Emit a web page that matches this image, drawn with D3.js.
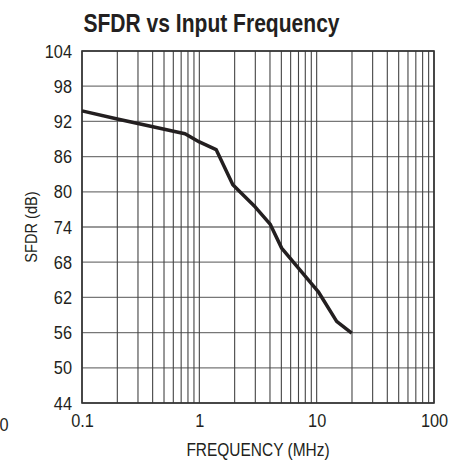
<!DOCTYPE html>
<html>
<head>
<meta charset="utf-8">
<script src="https://cdn.jsdelivr.net/npm/d3@7"></script>
<style>
  body { margin: 0; background: #fff; }
  text { font-family: "Liberation Sans", Arial, sans-serif; fill: #231f20; }
</style>
</head>
<body>
<svg id="canvas"></svg>
<script>
// curve
const freq = [0.1, 0.2, 0.755, 1.0, 1.39, 1.93, 3.0, 4.01, 5.03, 10.3, 14.8, 19.9];
const sfdr = [93.8, 92.4, 89.9, 88.5, 87.2, 81.2, 77.4, 74.5, 70.4, 63.0, 57.9, 55.9];

const yTicks = [44, 50, 56, 62, 68, 74, 80, 86, 92, 98, 104];
const xTicks = [0.1, 1, 10, 100];
const xTickLabels = ["0.1", "1", "10", "100"];

const width = 458,
  height = 462,
  margin = { top: 51, right: 24, bottom: 59, left: 82 },
  narrow = 0.86; // fake a condensed face

const canvas = d3.select("#canvas").attr("width", width).attr("height", height);

const xScale = d3.scaleLog().domain([0.1, 100]).range([margin.left, width - margin.right]);
const yScale = d3.scaleLinear().domain([44, 104]).range([height - margin.bottom, margin.top]);

// minor grid for log axis
let minor = [];
[0.1, 1, 10].forEach(d => {
  for (let k = 1; k <= 9; k++) minor.push(d * k);
});
minor.push(100);

canvas.append("g")
  .selectAll("line")
  .data(yTicks)
  .join("line")
  .attr("x1", margin.left)
  .attr("x2", width - margin.right)
  .attr("y1", d => yScale(d))
  .attr("y2", d => yScale(d))
  .attr("stroke", "#777")
  .attr("stroke-width", 1.3);

canvas.append("g")
  .selectAll("line")
  .data(minor)
  .join("line")
  .attr("x1", d => xScale(d))
  .attr("x2", d => xScale(d))
  .attr("y1", margin.top)
  .attr("y2", height - margin.bottom)
  .attr("stroke", "#444")
  .attr("stroke-width", 1.1);

canvas.append("rect")
  .attr("x", margin.left)
  .attr("y", margin.top)
  .attr("width", width - margin.left - margin.right)
  .attr("height", height - margin.top - margin.bottom)
  .attr("fill", "none")
  .attr("stroke", "#333")
  .attr("stroke-width", 1.6);

const squeeze = sel => sel.each(function () {
  const t = d3.select(this);
  const x = +t.attr("x") || 0;
  t.attr("x", 0).attr("transform", `translate(${x},0) scale(${narrow},1)`);
});

// axes labels
const yAxis = d3.axisLeft(yScale).tickValues(yTicks).tickSize(0).tickPadding(10);
canvas.append("g")
  .attr("transform", `translate(${margin.left}, 0)`)
  .call(yAxis)
  .call(g => g.select(".domain").remove())
  .selectAll("text")
  .attr("font-size", 19)
  .call(squeeze);

const xAxis = d3.axisBottom(xScale).tickValues(xTicks).tickFormat((d, i) => xTickLabels[i]).tickSize(0).tickPadding(11);
canvas.append("g")
  .attr("transform", `translate(0, ${height - margin.bottom})`)
  .call(xAxis)
  .call(g => g.select(".domain").remove())
  .selectAll("text")
  .attr("font-size", 19)
  .call(squeeze);

canvas.selectAll(".tick text").attr("fill", "#231f20").style("font-family", '"Liberation Sans", Arial, sans-serif');

const label = (x, y, size, txt, rot, sx) =>
  canvas.append("text")
    .attr("transform", `translate(${x},${y}) rotate(${rot || 0}) scale(${sx || narrow},1)`)
    .attr("text-anchor", "middle")
    .attr("font-size", size)
    .text(txt);

// stray label at the left edge
label(4, 431, 19, "0");

const line = d3.line()
  .x((d, i) => xScale(freq[i]))
  .y((d, i) => yScale(sfdr[i]));

canvas.append("path")
  .datum(sfdr)
  .attr("d", line)
  .attr("fill", "none")
  .attr("stroke", "#231f20")
  .attr("stroke-width", 3.5)
  .attr("stroke-linejoin", "round");

label(211.5, 32, 26, "SFDR vs Input Frequency", 0, 0.81).attr("font-weight", "bold");
label(258, 456, 18, "FREQUENCY (MHz)");
label(37, 227, 17, "SFDR (dB)", -90);
</script>
</body>
</html>
